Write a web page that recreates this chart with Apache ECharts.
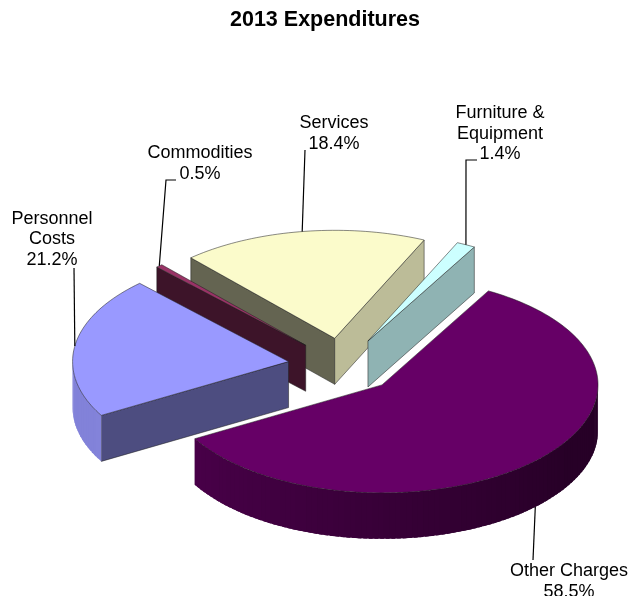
<!DOCTYPE html>
<html>
<head>
<meta charset="utf-8">
<style>html,body{margin:0;padding:0;background:#fff;overflow:hidden}#c{width:629px;height:596px}</style>
<script src="https://cdn.jsdelivr.net/npm/echarts@6/dist/echarts.min.js"></script>
</head>
<body>
<div id="c"></div>
<script>
// ---- data ----
var categories = ['Personnel\nCosts', 'Commodities', 'Services', 'Furniture &\nEquipment', 'Other Charges'];
var shares = [21.2, 0.5, 18.4, 1.4, 58.5];

// ---- styles (one entry per category) ----
var topColors  = [[153,153,255],[153,51,102],[251,251,203],[204,255,255],[102,0,102]];
var startWall  = [0.50,0.40,0.40,0.70,0.45];   // shade of the wall at the slice's first edge
var endWall    = [0.50,0.40,0.75,0.70,0.45];   // shade of the wall at the slice's last edge
var rimFrom    = [0.90,0.50,0.75,0.70,0.38];   // rim shade at rim angle -> 0deg side
var rimTo      = [0.85,0.50,0.75,0.70,0.74];   // rim shade at 180deg+ side
var labelCenterX = [52, 200, 334, 500, 569];
var labelTopY    = [208.5, 143, 113, 103, 561];
var labelElbow   = [[74,268],[166,180,176,180],[305,150],[466,160,477,160],[533,560]];

// ---- projection ----
var CX = 343, CY = 365.5, RX = 216, TILT = 0.5, DEPTH = 46, EXPLODE = 55, START_ANGLE = 209.9;

function rad(d){ return d * Math.PI / 180; }
function ringPoint(c, a, z){
  return [c[0] + RX * Math.cos(rad(a)), c[1] - RX * TILT * Math.sin(rad(a)) + (z || 0)];
}
function shade(rgb, f){
  return 'rgb(' + rgb.map(function(v){ return Math.round(v * f); }).join(',') + ')';
}

// slice angles, from the values, clockwise
var sliceAngles = [];
(function(){
  var total = shares.reduce(function(s, v){ return s + v; }, 0), a = START_ANGLE;
  shares.forEach(function(v){
    var b = a - v / total * 360;
    sliceAngles.push([a, b]);
    a = b;
  });
})();
function tipOf(i){
  var m = (sliceAngles[i][0] + sliceAngles[i][1]) / 2;
  return [CX + EXPLODE * Math.cos(rad(m)), CY - EXPLODE * TILT * Math.sin(rad(m))];
}
// back slices are painted first
var paintRank = shares.map(function(_, i){ return i; })
  .sort(function(p, q){ return tipOf(p)[1] - tipOf(q)[1]; })
  .reduce(function(o, idx, r){ o[idx] = r; return o; }, {});

var OUTLINE = 'rgba(30,30,30,0.75)';

function renderItem(params, api){
  var i = params.dataIndex;
  var a0 = sliceAngles[i][0], a1 = sliceAngles[i][1], mid = (a0 + a1) / 2;
  var tip = tipOf(i), rgb = topColors[i], base = paintRank[i] * 1000;
  var kids = [];

  function poly(points, fill, z2, stroke, lw){
    kids.push({ type: 'polygon', z2: base + z2, shape: { points: points },
      style: { fill: fill, stroke: stroke || 'none', lineWidth: lw || 0 } });
  }
  function wall(a, f, z2){
    var p = ringPoint(tip, a), q = ringPoint(tip, a, DEPTH);
    poly([tip, p, q, [tip[0], tip[1] + DEPTH]], shade(rgb, f), z2, OUTLINE, 0.7);
  }

  // radial walls, when turned towards the viewer
  if (Math.sin(rad(a0 + 90)) < 0) wall(a0, startWall[i], 1);
  if (Math.sin(rad(a1 - 90)) < 0) wall(a1, endWall[i], 1);

  // rim, in narrow overlapping bands, where it faces the viewer
  var band = 0;
  for (var a = a0; a > a1 + 1e-6; a -= 1.5) {
    var b = Math.max(a - 1.5, a1), m = (a + b) / 2;
    if (Math.sin(rad(m)) >= 0) continue;
    var over = Math.max(b - 1, a1);
    var t = ((m % 360) + 360) % 360;               // 180..360 on the near side
    var f = rimFrom[i] + (rimTo[i] - rimFrom[i]) * Math.max(0, Math.min(1, (330 - t) / 130));
    poly([ringPoint(tip, a), ringPoint(tip, over), ringPoint(tip, over, DEPTH), ringPoint(tip, a, DEPTH)],
      shade(rgb, f), 2 + (band++) * 0.001);
  }

  // top face
  var face = [tip];
  for (var c = 0, steps = Math.max(4, Math.ceil((a0 - a1) / 1.5)); c <= steps; c++) {
    face.push(ringPoint(tip, a0 + (a1 - a0) * c / steps));
  }
  poly(face, shade(rgb, 1), 4, OUTLINE, 0.7);

  // leader line, from the middle of the slice's arc
  var anchor = ringPoint(tip, mid, Math.sin(rad(mid)) < 0 ? DEPTH : 0);
  var elbow = labelElbow[i], line = [anchor];
  for (var e = 0; e < elbow.length; e += 2) line.push([elbow[e], elbow[e + 1]]);
  kids.push({ type: 'polyline', z2: 9000, shape: { points: line },
    style: { fill: 'none', stroke: '#000', lineWidth: 1.2 } });

  // label
  kids.push({ type: 'text', z2: 9001, style: {
    text: categories[i] + '\n' + api.value(0).toFixed(1) + '%',
    x: labelCenterX[i], y: labelTopY[i], align: 'center', verticalAlign: 'top',
    font: '18px "Liberation Sans"', lineHeight: 20.5, fill: '#000' } });

  return { type: 'group', children: kids };
}

var chart = echarts.init(document.getElementById('c'), null, { renderer: 'canvas' });
chart.setOption({
  animation: false,
  backgroundColor: '#fff',
  title: {
    text: '2013 Expenditures', left: 225, top: 4,
    textStyle: { fontFamily: 'Liberation Sans', fontWeight: 'bold', fontSize: 21.5, color: '#000' }
  },
  series: [{
    type: 'custom',
    coordinateSystem: 'none',
    silent: true,
    renderItem: renderItem,
    data: shares.map(function(v){ return [v]; })
  }]
});
</script>
</body>
</html>
